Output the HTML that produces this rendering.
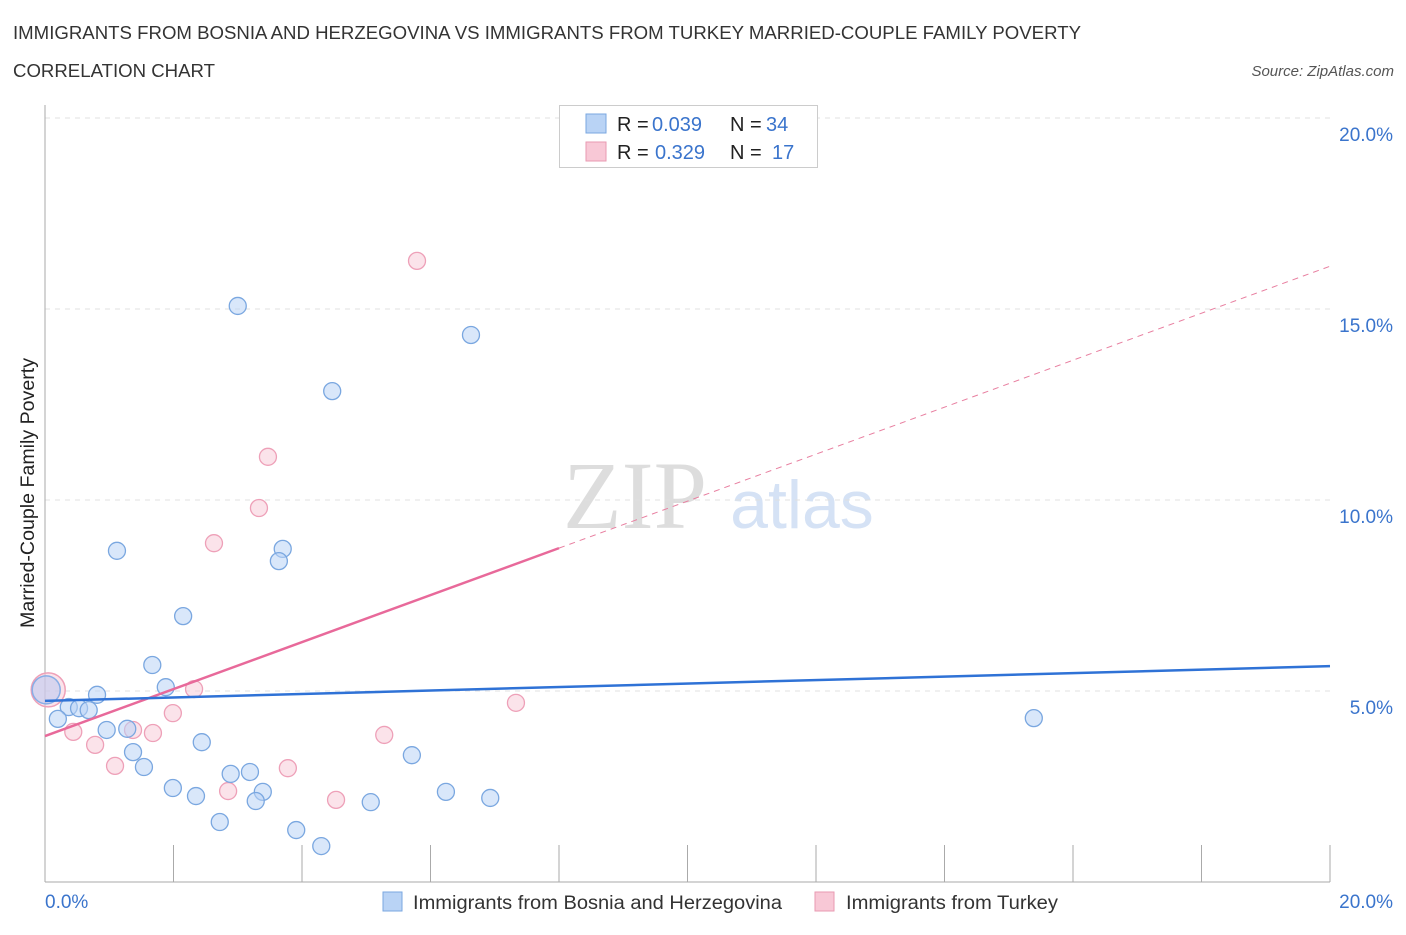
<!DOCTYPE html>
<html><head><meta charset="utf-8"><style>
body{margin:0;background:#fff;font-family:"Liberation Sans",sans-serif;}
</style></head><body>
<svg id="c" width="1406" height="930" xmlns="http://www.w3.org/2000/svg" font-family="Liberation Sans, sans-serif">
<text x="13" y="39" font-size="18" fill="#333" textLength="1068" lengthAdjust="spacingAndGlyphs">IMMIGRANTS FROM BOSNIA AND HERZEGOVINA VS IMMIGRANTS FROM TURKEY MARRIED-COUPLE FAMILY POVERTY</text>
<text x="13" y="77" font-size="18" fill="#333" textLength="202" lengthAdjust="spacingAndGlyphs">CORRELATION CHART</text>
<text x="1394" y="76" font-size="15" fill="#555" font-style="italic" text-anchor="end">Source: ZipAtlas.com</text>
<text x="635" y="528" font-size="96" fill="#ddd" font-family="Liberation Serif, serif" text-anchor="middle">ZIP</text>
<text x="802" y="528" font-size="68" fill="#d5e2f5" text-anchor="middle">atlas</text>
<g id="grid"></g>
<line x1="45" y1="105" x2="45" y2="882" stroke="#aaa"/>
<line x1="45" y1="882" x2="1330" y2="882" stroke="#aaa"/>
<g id="ticks"></g>
<g id="marks"></g>
<text x="34" y="493" font-size="19" fill="#222" text-anchor="middle" transform="rotate(-90 34 493)" textLength="270" lengthAdjust="spacingAndGlyphs">Married-Couple Family Poverty</text>
<text x="45" y="908" font-size="19" fill="#3a74cc">0.0%</text>
<text x="1393" y="908" font-size="19" fill="#3a74cc" text-anchor="end">20.0%</text>
<g>
<rect x="559.5" y="105.5" width="258" height="62" fill="#fff" stroke="#ccc"/>
<rect x="586" y="114" width="20" height="19" fill="#b9d3f5" stroke="#7aa7e0"/>
<rect x="586" y="142" width="20" height="19" fill="#f8c8d6" stroke="#e89ab2"/>
<text x="617" y="131" font-size="20" fill="#222">R = <tspan fill="#3a74cc" x="652">0.039</tspan><tspan x="730">N = </tspan><tspan fill="#3a74cc" x="766">34</tspan></text>
<text x="617" y="159" font-size="20" fill="#222">R = <tspan fill="#3a74cc" x="655">0.329</tspan><tspan x="730">N = </tspan><tspan fill="#3a74cc" x="772">17</tspan></text>
</g>
<g>
<rect x="383" y="892" width="19" height="19" fill="#b9d3f5" stroke="#7aa7e0"/>
<text x="413" y="909" font-size="19" fill="#333" textLength="369" lengthAdjust="spacingAndGlyphs">Immigrants from Bosnia and Herzegovina</text>
<rect x="815" y="892" width="19" height="19" fill="#f8c8d6" stroke="#e89ab2"/>
<text x="846" y="909" font-size="19" fill="#333" textLength="212" lengthAdjust="spacingAndGlyphs">Immigrants from Turkey</text>
</g>
</svg>
<script>
const blueX=[3.00,6.63,4.47,1.12,3.70,3.64,2.15,1.67,1.88,0.81,0.37,0.53,0.68,0.20,0.96,1.28,1.37,1.54,2.44,1.99,2.35,2.89,3.19,3.39,3.28,2.72,3.91,4.30,5.07,5.71,6.24,6.93,15.39];
const blueY=[15.08,14.32,12.85,8.67,8.72,8.40,6.96,5.68,5.10,4.90,4.58,4.55,4.50,4.27,3.98,4.01,3.40,3.01,3.66,2.46,2.25,2.83,2.88,2.36,2.12,1.57,1.36,0.94,2.09,3.32,2.36,2.20,4.29];
const pinkX=[5.79,3.47,3.33,2.63,2.32,1.99,1.37,1.68,0.44,0.78,1.09,2.85,3.78,4.53,5.28,7.33];
const pinkY=[16.26,11.13,9.79,8.87,5.05,4.42,3.98,3.90,3.93,3.59,3.04,2.38,2.98,2.15,3.85,4.69];
const bigX=[0.05], bigY=[5.03];
const yTicks=[5,10,15,20];
const yTickLabels=["5.0%","10.0%","15.0%","20.0%"];
const xTicks=[0,2,4,6,8,10,12,14,16,18,20];
const blueTrend=[4.74,5.65];
const pinkTrend=[3.82,16.12];
const pinkSolidEnd=8;
const NS="http://www.w3.org/2000/svg";
const sx=v=>45+v/20*1285, sy=v=>882-v/5*191;
function mk(p,t,a){const e=document.createElementNS(NS,t);for(const k in a)e.setAttribute(k,a[k]);document.getElementById(p).appendChild(e);return e;}
yTicks.forEach((v,i)=>{
 const l=mk('grid','line',{x1:45,x2:1330,y1:sy(v),y2:sy(v),stroke:'#e0e0e0','stroke-dasharray':'5,5'});
 
 
 const t=mk('grid','text',{x:1393,y:sy(v)+23,'font-size':19,fill:'#3a74cc','text-anchor':'end'});
 t.textContent=yTickLabels[i];
 
 
});
xTicks.forEach(v=>{
 const l=mk('ticks','line',{x1:sx(v),x2:sx(v),y1:845,y2:882,stroke:'#aaa'});
 
 
});
bigX.forEach((x,i)=>{
 const c=mk('marks','circle',{cx:sx(x),cy:sy(bigY[i]),r:17,fill:'rgba(248,200,214,0.5)',stroke:'#eea0b8','stroke-width':1.5});
 
 
 const d=mk('marks','circle',{cx:sx(x)-2,cy:sy(bigY[i]),r:14,fill:'rgba(185,200,240,0.55)',stroke:'#88aee6','stroke-width':1.5});
 
 
});
pinkX.forEach((x,i)=>{
 const c=mk('marks','circle',{cx:sx(x),cy:sy(pinkY[i]),r:8.5,fill:'rgba(248,200,214,0.5)',stroke:'#eea0b8','stroke-width':1.3});
 
 
});
blueX.forEach((x,i)=>{
 const c=mk('marks','circle',{cx:sx(x),cy:sy(blueY[i]),r:8.5,fill:'rgba(185,211,245,0.55)',stroke:'#7aa7e0','stroke-width':1.3});
 
 
});
const pAt=x=>pinkTrend[0]+(pinkTrend[1]-pinkTrend[0])*x/20;
let l=mk('marks','line',{x1:sx(pinkSolidEnd),y1:sy(pAt(pinkSolidEnd)),x2:sx(20),y2:sy(pinkTrend[1]),stroke:'#e87fa0','stroke-dasharray':'6,5','stroke-width':1});


l=mk('marks','line',{x1:sx(0),y1:sy(pinkTrend[0]),x2:sx(pinkSolidEnd),y2:sy(pAt(pinkSolidEnd)),stroke:'#e8699a','stroke-width':2.5});


l=mk('marks','line',{x1:sx(0),y1:sy(blueTrend[0]),x2:sx(20),y2:sy(blueTrend[1]),stroke:'#2f72d6','stroke-width':2.5});


</script>
</body></html>
